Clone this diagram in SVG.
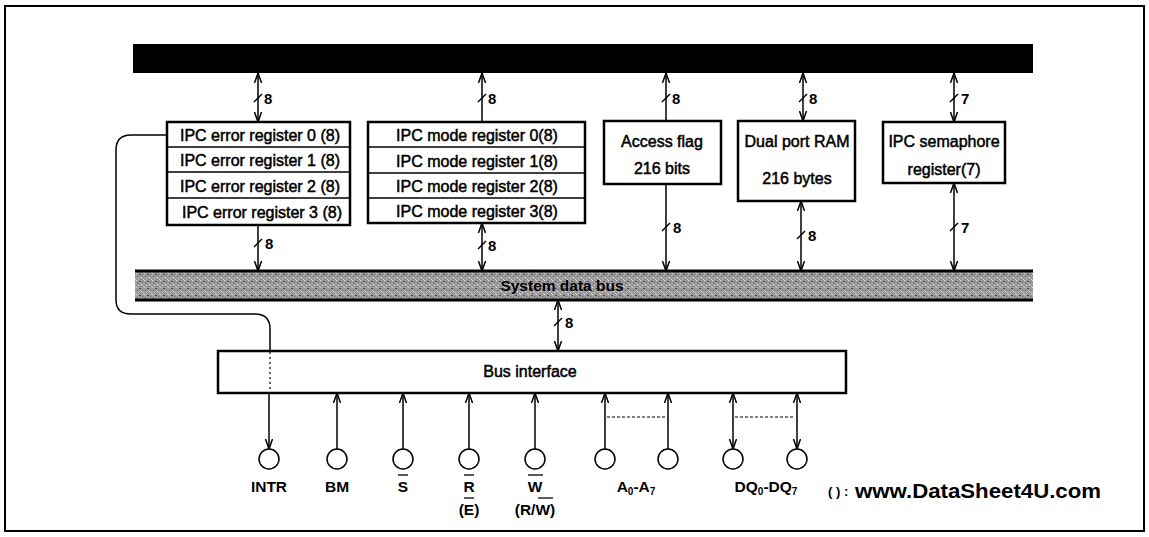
<svg xmlns="http://www.w3.org/2000/svg" width="1149" height="537" viewBox="0 0 1149 537">
<style>
text{font-family:"Liberation Sans",Arial,sans-serif;font-weight:bold;fill:#000}
.box{fill:#fff;stroke:#000;stroke-width:2.5}
.div{stroke:#000;stroke-width:1.5}
.reg{font-size:16px;font-weight:normal;stroke:#000;stroke-width:0.5}
.lbl{font-size:15px}
.pin{font-size:15.5px}
.w{fill:none;stroke:#000;stroke-width:1.5}
.tick{stroke:#000;stroke-width:1.5}
.pc{fill:#fff;stroke:#000;stroke-width:1.5}
.ob{stroke:#000;stroke-width:1.3}
</style>
<defs>
<marker id="ah" viewBox="0 0 10 10" refX="10" refY="5" markerWidth="10" markerHeight="10" markerUnits="userSpaceOnUse" orient="auto-start-reverse">
<path d="M0,1.5 L10,5 L0,8.5" fill="none" stroke="#000" stroke-width="1.5"/>
</marker>
<pattern id="noise" width="8" height="7" patternUnits="userSpaceOnUse">
<rect width="8" height="7" fill="#9c9c9c"/>
<rect x="0" y="0" width="1" height="1" fill="#e4e4e4"/>
<rect x="3" y="1" width="2" height="1" fill="#505050"/>
<rect x="1" y="3" width="1" height="1" fill="#6a6a6a"/>
<rect x="5" y="4" width="1" height="1" fill="#efefef"/>
<rect x="2" y="5" width="1" height="1" fill="#d0d0d0"/>
<rect x="6" y="2" width="1" height="1" fill="#606060"/>
<rect x="7" y="6" width="1" height="1" fill="#cfcfcf"/>
<rect x="4" y="6" width="1" height="1" fill="#777"/>
</pattern>
</defs>

<rect x="5" y="6" width="1139" height="525" fill="#fff" stroke="#000" stroke-width="2"/>

<g id="top-bus"><rect x="133" y="44" width="900" height="29" fill="#000"/></g>

<g id="system-bus">
<rect x="135" y="271" width="898" height="29" fill="url(#noise)"/>
<line x1="135" y1="271" x2="1033" y2="271" stroke="#000" stroke-width="3"/>
<line x1="135" y1="300" x2="1033" y2="300" stroke="#000" stroke-width="3"/>
<text x="562" y="291" font-size="15.5" text-anchor="middle">System data bus</text>
</g>

<g id="error-registers">
<rect class="box" x="167" y="122" width="183" height="103"/>
<line class="div" x1="167" y1="147" x2="350" y2="147"/>
<line class="div" x1="167" y1="172" x2="350" y2="172"/>
<line class="div" x1="167" y1="198" x2="350" y2="198"/>
<text class="reg" x="260" y="141" text-anchor="middle">IPC error register 0 (8)</text>
<text class="reg" x="260" y="166" text-anchor="middle">IPC error register 1 (8)</text>
<text class="reg" x="260" y="192" text-anchor="middle">IPC error register 2 (8)</text>
<text class="reg" x="262" y="218" text-anchor="middle">IPC error register 3 (8)</text>
</g>

<g id="mode-registers">
<rect class="box" x="368" y="122" width="217" height="101"/>
<line class="div" x1="368" y1="147" x2="585" y2="147"/>
<line class="div" x1="368" y1="173" x2="585" y2="173"/>
<line class="div" x1="368" y1="198" x2="585" y2="198"/>
<text class="reg" x="477" y="141" text-anchor="middle">IPC mode register 0(8)</text>
<text class="reg" x="477" y="167" text-anchor="middle">IPC mode register 1(8)</text>
<text class="reg" x="477" y="192" text-anchor="middle">IPC mode register 2(8)</text>
<text class="reg" x="477" y="217" text-anchor="middle">IPC mode register 3(8)</text>
</g>

<g id="access-flag">
<rect class="box" x="604" y="121" width="117" height="63"/>
<text class="reg" x="662" y="147" text-anchor="middle">Access flag</text>
<text class="reg" x="662" y="174" text-anchor="middle">216 bits</text>
</g>

<g id="dual-port-ram">
<rect class="box" x="738" y="121" width="117" height="80"/>
<text class="reg" x="797" y="147" text-anchor="middle">Dual port RAM</text>
<text class="reg" x="797" y="184" text-anchor="middle">216 bytes</text>
</g>

<g id="semaphore-register">
<rect class="box" x="883" y="122" width="122" height="61"/>
<text class="reg" x="944" y="147" text-anchor="middle">IPC semaphore</text>
<text class="reg" x="944" y="175" text-anchor="middle">register(7)</text>
</g>

<g id="bus-interface">
<rect class="box" x="218" y="351" width="628" height="42"/>
<text class="reg" x="530" y="377" text-anchor="middle">Bus interface</text>
</g>

<g id="pins">
<circle class="pc" cx="269" cy="459" r="10"/>
<circle class="pc" cx="337" cy="459" r="10"/>
<circle class="pc" cx="403" cy="459" r="10"/>
<circle class="pc" cx="469" cy="459" r="10"/>
<circle class="pc" cx="535" cy="459" r="10"/>
<circle class="pc" cx="605" cy="459" r="10"/>
<circle class="pc" cx="668" cy="459" r="10"/>
<circle class="pc" cx="733" cy="459" r="10"/>
<circle class="pc" cx="797" cy="459" r="10"/>
<text class="pin" x="269" y="492" text-anchor="middle">INTR</text>
<text class="pin" x="337" y="492" text-anchor="middle">BM</text>
<text class="pin" x="403" y="492" text-anchor="middle">S</text>
<line class="ob" x1="398" y1="475" x2="408" y2="475"/>
<text class="pin" x="469" y="492" text-anchor="middle">R</text>
<line class="ob" x1="464" y1="475" x2="474" y2="475"/>
<text class="pin" x="469" y="515" text-anchor="middle">(E)</text>
<line class="ob" x1="464" y1="498" x2="474" y2="498"/>
<text class="pin" x="535" y="492" text-anchor="middle">W</text>
<line class="ob" x1="528" y1="475" x2="543" y2="475"/>
<text class="pin" x="535" y="515" text-anchor="middle">(R/W)</text>
<line class="ob" x1="538" y1="498" x2="553" y2="498"/>
<text class="pin" x="636" y="492" font-size="14" text-anchor="middle">A<tspan font-size="10" dy="3">0</tspan><tspan dy="-3">-A</tspan><tspan font-size="10" dy="3">7</tspan></text>
<text class="pin" x="766" y="492" font-size="14" text-anchor="middle">DQ<tspan font-size="10" dy="3">0</tspan><tspan dy="-3">-DQ</tspan><tspan font-size="10" dy="3">7</tspan></text>
<text x="828" y="496" font-size="13" font-weight="normal">( ) :</text>
<text x="855" y="498" font-size="20" fill="#3a3a3a" textLength="246" lengthAdjust="spacingAndGlyphs">www.DataSheet4U.com</text>
</g>

<g id="connectors">
<line class="w" x1="258" y1="73" x2="258" y2="122" marker-start="url(#ah)" marker-end="url(#ah)"/>
<line class="w" x1="482" y1="73" x2="482" y2="122" marker-start="url(#ah)"/>
<line class="w" x1="666" y1="73" x2="666" y2="121" marker-start="url(#ah)"/>
<line class="w" x1="803" y1="73" x2="803" y2="121" marker-start="url(#ah)" marker-end="url(#ah)"/>
<line class="w" x1="954" y1="73" x2="954" y2="122" marker-start="url(#ah)" marker-end="url(#ah)"/>
<line class="tick" x1="254" y1="102" x2="262" y2="94"/><text class="lbl" x="264" y="104">8</text>
<line class="tick" x1="478" y1="102" x2="486" y2="94"/><text class="lbl" x="488" y="104">8</text>
<line class="tick" x1="662" y1="102" x2="670" y2="94"/><text class="lbl" x="672" y="104">8</text>
<line class="tick" x1="799" y1="102" x2="807" y2="94"/><text class="lbl" x="809" y="104">8</text>
<line class="tick" x1="950" y1="102" x2="958" y2="94"/><text class="lbl" x="961" y="104">7</text>
<line class="w" x1="258" y1="225" x2="258" y2="271" marker-end="url(#ah)"/>
<line class="w" x1="482" y1="223" x2="482" y2="271" marker-start="url(#ah)" marker-end="url(#ah)"/>
<line class="w" x1="666" y1="184" x2="666" y2="271" marker-end="url(#ah)"/>
<line class="w" x1="801" y1="201" x2="801" y2="271" marker-start="url(#ah)" marker-end="url(#ah)"/>
<line class="w" x1="954" y1="183" x2="954" y2="271" marker-start="url(#ah)" marker-end="url(#ah)"/>
<line class="tick" x1="254" y1="247" x2="262" y2="239"/><text class="lbl" x="265" y="249">8</text>
<line class="tick" x1="478" y1="249" x2="486" y2="241"/><text class="lbl" x="488" y="251">8</text>
<line class="tick" x1="662" y1="231" x2="670" y2="223"/><text class="lbl" x="673" y="233">8</text>
<line class="tick" x1="797" y1="239" x2="805" y2="231"/><text class="lbl" x="808" y="241">8</text>
<line class="tick" x1="950" y1="231" x2="958" y2="223"/><text class="lbl" x="961" y="233">7</text>
<line class="w" x1="558" y1="300" x2="558" y2="351" marker-start="url(#ah)" marker-end="url(#ah)"/>
<line class="tick" x1="554" y1="326" x2="562" y2="318"/><text class="lbl" x="565" y="328">8</text>
<path class="w" d="M167,135 H131 Q116,135 116,150 V300 Q116,314 131,314 H255 Q270,314 270,329 V351"/>
<line x1="270" y1="352" x2="270" y2="392" stroke="#000" stroke-width="1.2" stroke-dasharray="2,3"/>
<line class="w" x1="269" y1="393" x2="269" y2="449" marker-end="url(#ah)"/>
<line class="w" x1="337" y1="449" x2="337" y2="393" marker-end="url(#ah)"/>
<line class="w" x1="403" y1="449" x2="403" y2="393" marker-end="url(#ah)"/>
<line class="w" x1="469" y1="449" x2="469" y2="393" marker-end="url(#ah)"/>
<line class="w" x1="535" y1="449" x2="535" y2="393" marker-end="url(#ah)"/>
<line class="w" x1="605" y1="449" x2="605" y2="393" marker-end="url(#ah)"/>
<line class="w" x1="668" y1="449" x2="668" y2="393" marker-end="url(#ah)"/>
<line class="w" x1="733" y1="449" x2="733" y2="393" marker-start="url(#ah)" marker-end="url(#ah)"/>
<line class="w" x1="797" y1="449" x2="797" y2="393" marker-start="url(#ah)" marker-end="url(#ah)"/>
<line x1="607" y1="417" x2="666" y2="417" stroke="#000" stroke-width="1.2" stroke-dasharray="3,2"/>
<line x1="735" y1="417" x2="795" y2="417" stroke="#000" stroke-width="1.2" stroke-dasharray="3,2"/>
</g>
</svg>
